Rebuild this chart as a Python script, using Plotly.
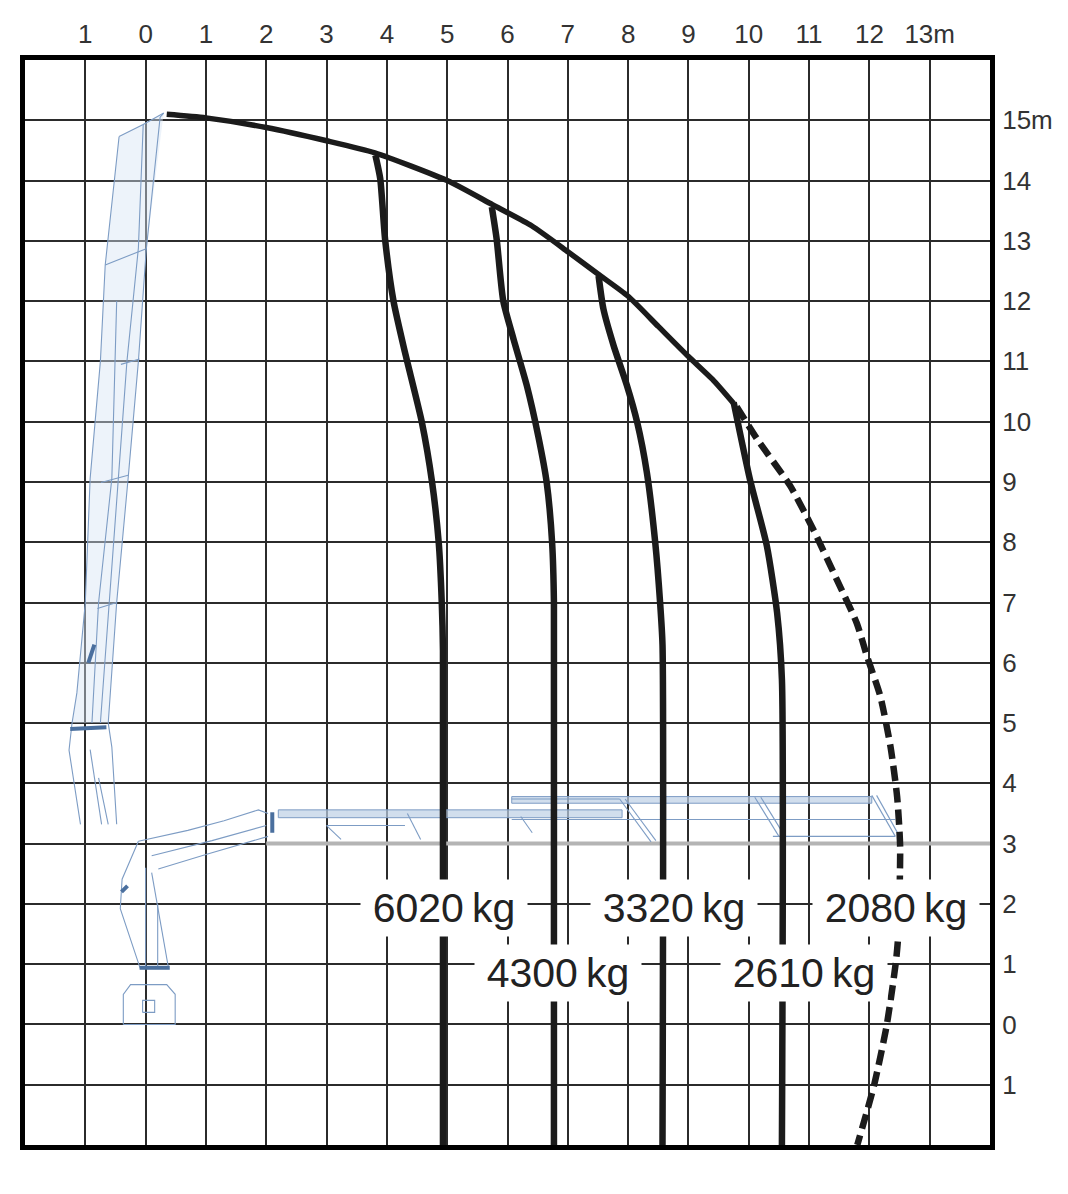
import plotly.graph_objects as go

# ---- axes / ticks ----
x_ticks = list(range(-1, 14))
x_ticktext = ["1", "0", "1", "2", "3", "4", "5", "6", "7", "8", "9", "10", "11", "12", "13m"]
y_ticks = list(range(-1, 16))
y_ticktext = ["1", "0", "1", "2", "3", "4", "5", "6", "7", "8", "9", "10", "11", "12", "13", "14", "15m"]

# ---- load curves (m) ----
envelope_x = [0.35, 1.0, 2.0, 3.0, 3.8, 5.0, 5.75, 6.4, 7.0, 7.5, 8.0, 8.5, 9.0, 9.4, 9.75]
envelope_y = [15.1, 15.04, 14.88, 14.66, 14.46, 14.0, 13.6, 13.25, 12.82, 12.45, 12.08, 11.58, 11.08, 10.7, 10.3]

c6020_x = [3.81, 3.89, 3.97, 4.11, 4.30, 4.58, 4.75, 4.86, 4.91, 4.93, 4.93]
c6020_y = [14.42, 14.03, 13.03, 12.0, 11.15, 9.99, 8.99, 7.99, 7.0, 6.2, -2.0]

c4300_x = [5.74, 5.82, 5.93, 6.10, 6.32, 6.51, 6.65, 6.74, 6.77, 6.77]
c4300_y = [13.56, 13.03, 12.0, 11.37, 10.6, 9.76, 8.99, 7.99, 7.0, -2.0]

c3320_x = [7.51, 7.59, 7.76, 7.98, 8.15, 8.31, 8.45, 8.53, 8.57, 8.57]
c3320_y = [12.42, 11.87, 11.26, 10.6, 9.99, 9.16, 7.99, 7.0, 6.3, -2.0]

c2610_x = [9.75, 10.02, 10.30, 10.47, 10.55, 10.55]
c2610_y = [10.32, 9.04, 7.94, 6.83, 5.72, -2.0]

c2080_x = [9.8, 10.14, 10.69, 11.07, 11.46, 11.79, 11.96, 12.18, 12.35, 12.46, 12.51, 12.48, 12.44, 12.29, 12.08, 11.8]
c2080_y = [10.25, 9.71, 8.93, 8.21, 7.38, 6.66, 6.11, 5.45, 4.61, 3.78, 2.95, 1.5, 1.04, 0.0, -1.0, -2.0]

load_labels = ["6020\u2009kg", "4300\u2009kg", "3320\u2009kg", "2610\u2009kg", "2080\u2009kg"]
label_x = [4.95, 6.84, 8.76, 10.92, 12.44]
label_y = [1.93, 0.86, 1.93, 0.86, 1.93]

# ---- crane sketch (m), upright pose ----
mast_fill = [(0.30, 15.12), (0.01, 12.85), (-0.12, 11.0), (-0.29, 9.06), (-0.48, 7.0), (-0.62, 5.0),
             (-1.22, 5.0), (-1.14, 5.5), (-1.0, 7.0), (-0.92, 9.06), (-0.75, 11.0), (-0.67, 12.6), (-0.44, 14.73)]
mast_lines = [
    [(0.30, 15.12), (0.24, 15.05), (0.01, 12.85), (-0.12, 11.0), (-0.29, 9.06), (-0.48, 7.0), (-0.62, 5.0)],
    [(-0.04, 14.93), (-0.12, 12.88), (-0.31, 11.0), (-0.45, 9.06), (-0.6, 7.0), (-0.75, 5.0)],
    [(-0.44, 14.73), (-0.67, 12.6), (-0.75, 11.0), (-0.92, 9.06), (-1.0, 7.0), (-1.14, 5.5), (-1.22, 5.0)],
    [(-0.48, 12.0), (-0.56, 9.06), (-0.78, 7.0), (-0.89, 5.0)],
    [(-0.44, 14.73), (-0.04, 14.93), (0.30, 15.12)],
    [(-0.67, 12.6), (0.01, 12.87)],
    [(-0.41, 10.95), (-0.10, 11.04)],
    [(-0.74, 8.99), (-0.29, 9.11)],
    [(-0.80, 6.9), (-0.48, 7.0)],
    [(-1.22, 5.0), (-1.27, 4.55), (-1.08, 3.32)],
    [(-0.92, 4.56), (-0.73, 3.32)],
    [(-0.62, 5.0), (-0.56, 4.6), (-0.48, 3.32)],
    [(-0.78, 4.09), (-0.62, 3.32)],
]
mast_joints = [
    [(-1.25, 4.9), (-0.65, 4.93)],
    [(-0.95, 6.0), (-0.85, 6.3)],
]

# ---- crane sketch (m), folded-out pose ----
base_lines = [
    [(-0.37, 0.0), (-0.37, 0.5), (-0.25, 0.66), (0.35, 0.66), (0.49, 0.5), (0.49, 0.0), (-0.37, 0.0)],
    [(-0.05, 0.2), (0.15, 0.2), (0.15, 0.4), (-0.05, 0.4), (-0.05, 0.2)],
    [(-0.09, 0.93), (-0.42, 1.92), (-0.39, 2.41), (-0.12, 3.04)],
    [(0.38, 0.93), (0.1, 2.52)],
    [(0.0, 0.93), (0.0, 2.6)],
    [(0.2, 0.93), (0.2, 2.0)],
    [(-0.12, 3.04), (0.7, 3.22), (1.3, 3.38), (1.87, 3.56), (2.03, 3.5)],
    [(0.21, 2.58), (1.0, 2.82), (2.03, 3.12)],
    [(0.1, 2.8), (1.1, 3.05), (2.0, 3.3)],
]
base_joints = [
    [(-0.1, 0.94), (0.4, 0.94)],
    [(2.1, 3.18), (2.1, 3.52)],
    [(-0.4, 2.2), (-0.3, 2.3)],
]
boom_fill_1 = [(2.2, 3.43), (7.9, 3.43), (7.9, 3.56), (2.2, 3.56)]
boom_fill_2 = [(6.07, 3.67), (12.04, 3.67), (12.04, 3.78), (6.07, 3.78)]
boom_lines = [
    [(6.07, 3.4), (12.43, 3.4)],
    [(10.4, 3.12), (12.43, 3.12)],
    [(7.86, 3.74), (8.38, 3.03)],
    [(7.95, 3.74), (8.46, 3.05)],
    [(10.1, 3.77), (10.5, 3.12)],
    [(10.2, 3.77), (10.6, 3.12)],
    [(12.04, 3.8), (12.43, 3.12)],
    [(12.12, 3.8), (12.5, 3.12)],
    [(6.22, 3.45), (6.41, 3.18)],
    [(4.34, 3.5), (4.56, 3.07)],
    [(3.0, 3.3), (3.24, 3.07)],
    [(3.0, 3.3), (4.3, 3.3)],
    [(7.86, 3.74), (6.07, 3.74)],
]
boom_base_x = [2.0, 14.0]
boom_base_y = [3.0, 3.0]

SKETCH = "#7d9cc4"
SKETCH_DARK = "#4a6f9e"
INK = "#1b1b1b"
FONT = "Liberation Sans, Arial, sans-serif"


def flatten(lines):
    xs, ys = [], []
    for line in lines:
        for x, y in line:
            xs.append(x)
            ys.append(y)
        xs.append(None)
        ys.append(None)
    return xs, ys


def poly(points):
    return [p[0] for p in points] + [points[0][0]], [p[1] for p in points] + [points[0][1]]


fig = go.Figure()

# crane sketch
px, py = poly(mast_fill)
fig.add_trace(go.Scatter(x=px, y=py, mode="lines", fill="toself", fillcolor="rgba(214,228,244,0.45)",
                         line=dict(width=0), hoverinfo="skip", showlegend=False))
for pts in (boom_fill_1, boom_fill_2):
    px, py = poly(pts)
    fig.add_trace(go.Scatter(x=px, y=py, mode="lines", fill="toself", fillcolor="rgba(190,208,230,0.7)",
                             line=dict(color=SKETCH, width=1), hoverinfo="skip", showlegend=False))

fig.add_trace(go.Scatter(x=boom_base_x, y=boom_base_y, mode="lines",
                         line=dict(color="#b4b4b4", width=4), hoverinfo="skip", showlegend=False))

for group, w, col in ((mast_lines, 1.1, SKETCH), (base_lines, 1.1, SKETCH), (boom_lines, 1.1, SKETCH),
                      (mast_joints, 4, SKETCH_DARK), (base_joints, 4, SKETCH_DARK)):
    lx, ly = flatten(group)
    fig.add_trace(go.Scatter(x=lx, y=ly, mode="lines", line=dict(color=col, width=w),
                             hoverinfo="skip", showlegend=False))

# load curves
for cx, cy, w in ((envelope_x, envelope_y, 5.5), (c6020_x, c6020_y, 6.5), (c4300_x, c4300_y, 6.5),
                  (c3320_x, c3320_y, 6.5), (c2610_x, c2610_y, 6.5)):
    fig.add_trace(go.Scatter(x=cx, y=cy, mode="lines", line=dict(color=INK, width=w, shape="spline", smoothing=0.6),
                             hoverinfo="skip", showlegend=False))

fig.add_trace(go.Scatter(x=c2080_x, y=c2080_y, mode="lines",
                         line=dict(color=INK, width=6.5, dash="15px,7px", shape="spline", smoothing=0.6),
                         hoverinfo="skip", showlegend=False))

for txt, lx, ly in zip(load_labels, label_x, label_y):
    fig.add_annotation(x=lx, y=ly, text=txt, showarrow=False, bgcolor="white",
                       width=162, height=52, borderpad=2,
                       font=dict(size=41, color="#222222", family=FONT))

fig.update_xaxes(range=[-2, 14], side="top", tickmode="array", tickvals=x_ticks, ticktext=x_ticktext,
                 showgrid=True, gridcolor="#2b2b2b", gridwidth=1.5, zeroline=False,
                 showline=True, linecolor="black", linewidth=5, mirror=True,
                 ticks="outside", ticklen=2, tickcolor="rgba(0,0,0,0)", automargin=False,
                 tickfont=dict(size=26, color="#333333"))
fig.update_yaxes(range=[-2, 16], side="right", tickmode="array", tickvals=y_ticks, ticktext=y_ticktext,
                 showgrid=True, gridcolor="#2b2b2b", gridwidth=1.5, zeroline=False,
                 showline=True, linecolor="black", linewidth=5, mirror=True,
                 ticks="outside", ticklen=2, tickcolor="rgba(0,0,0,0)", automargin=False,
                 tickfont=dict(size=26, color="#333333"))

# page body has an 8px margin, so the plot box is pulled up/left by that much
fig.update_layout(
    width=1068, height=1194,
    margin=dict(l=17, r=86, t=52, b=57),
    paper_bgcolor="white", plot_bgcolor="white",
    font_family=FONT,
    showlegend=False,
)

fig.write_html("out.html")
